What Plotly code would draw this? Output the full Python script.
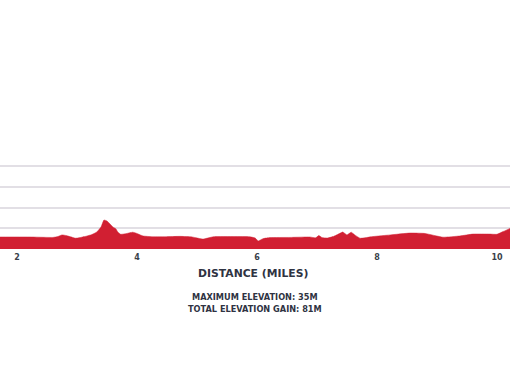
import plotly.graph_objects as go

miles = [1.6, 1.717, 2.217, 2.60, 2.68, 2.75, 2.82, 2.88, 2.98, 3.13, 3.25, 3.33, 3.40, 3.45, 3.50, 3.55,
         3.60, 3.65, 3.68, 3.73, 3.83, 3.93, 4.0, 4.10, 4.27, 4.47, 4.72, 4.92, 5.10, 5.27, 5.63,
         5.88, 5.97, 6.02, 6.10, 6.22, 6.55, 6.88, 6.98, 7.03, 7.08, 7.17, 7.27, 7.35, 7.43, 7.50,
         7.57, 7.63, 7.72, 7.93, 8.22, 8.55, 8.80, 9.10, 9.38, 9.60, 9.88, 10.0, 10.1, 10.22, 10.3]
elevation = [5.8, 5.8, 5.8, 5.6, 6.0, 6.8, 6.5, 6.0, 5.2, 6.0, 7.0, 8.2, 10.6, 14.0, 13.5, 12.1,
             10.6, 9.7, 8.2, 7.1, 7.5, 8.1, 7.5, 6.3, 5.9, 5.9, 6.1, 5.8, 4.8, 5.9, 6.0,
             5.9, 5.3, 3.9, 5.0, 5.5, 5.6, 5.8, 5.4, 6.5, 5.6, 5.3, 6.0, 7.1, 8.2, 6.8,
             8.1, 6.8, 5.2, 6.0, 6.8, 7.7, 7.5, 5.7, 6.3, 7.2, 7.2, 7.1, 8.4, 10.0, 11.5]
x_ticks = [2, 4, 6, 8, 10]
grid_vals = [10, 20, 30, 40]
axis_title = "DISTANCE (MILES)"
stats = ["MAXIMUM ELEVATION: 35M", "TOTAL ELEVATION GAIN: 81M"]

RED = "#d11f32"
DARK = "#2f3342"
FONT = "DejaVu Sans"

fig = go.Figure()
fig.add_trace(go.Scatter(x=miles, y=elevation, mode="lines", fill="tozeroy",
                         line=dict(color=RED, width=0.5, shape="spline", smoothing=0.4),
                         fillcolor=RED, hoverinfo="skip"))

fig.update_layout(
    width=510, height=382,
    margin=dict(l=0, r=0, t=20, b=133),
    paper_bgcolor="white", plot_bgcolor="white",
    showlegend=False,
    xaxis=dict(range=[1.717, 10.217], tickvals=x_ticks, showgrid=False, zeroline=False,
               showline=False, ticks="", ticklabelstandoff=2,
               tickfont=dict(family=FONT, size=8, color="#3a3f4b", weight="bold")),
    yaxis=dict(range=[0, 110.6], tickvals=grid_vals, showticklabels=False, showgrid=True,
               gridcolor="#e2dfe5", gridwidth=1.5, zeroline=False, showline=False),
)

fig.add_annotation(text=f"<b>{axis_title}</b>", xref="paper", yref="paper", x=0.497, y=-0.109,
                   yanchor="middle", showarrow=False, font=dict(family=FONT, size=10.8, color=DARK))
for i, s in enumerate(stats):
    fig.add_annotation(text=f"<b>{s}</b>", xref="paper", yref="paper",
                       x=0.5, y=-0.2096 - 0.0524 * i, yanchor="middle", showarrow=False,
                       font=dict(family=FONT, size=8.2, color=DARK))

fig.write_html("out.html")
